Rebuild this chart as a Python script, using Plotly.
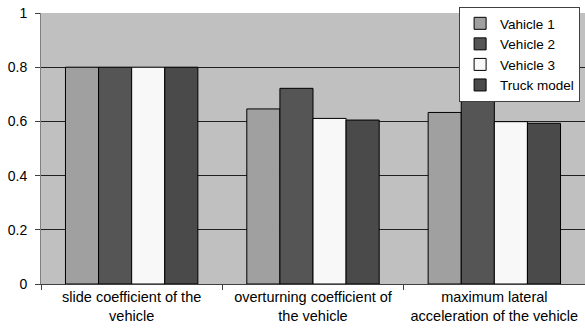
import plotly.graph_objects as go

categories = ["slide coefficient of the<br>vehicle",
              "overturning coefficient of<br>the vehicle",
              "maximum lateral<br>acceleration of the vehicle"]
series_names = ["Vahicle 1", "Vehicle 2", "Vehicle 3", "Truck model"]
vehicle1 = [0.80, 0.646, 0.633]
vehicle2 = [0.80, 0.722, 0.707]
vehicle3 = [0.80, 0.611, 0.599]
truck = [0.80, 0.605, 0.593]
series_values = [vehicle1, vehicle2, vehicle3, truck]
colors = ["#a0a0a0", "#555555", "#f8f8f8", "#4a4a4a"]
y_ticks = [0, 0.2, 0.4, 0.6, 0.8, 1]

fig = go.Figure()
for name, vals, col in zip(series_names, series_values, colors):
    fig.add_trace(go.Bar(x=categories, y=vals, name=name,
                         marker=dict(color=col, line=dict(color="#000000", width=1))))

fig.update_layout(
    width=585, height=331,
    margin=dict(l=41, r=0, t=13, b=47, autoexpand=False),
    paper_bgcolor="white", plot_bgcolor="#c0c0c0",
    font=dict(family="Liberation Sans", size=14, color="#000000"),
    barmode="group", bargap=0.27, bargroupgap=0,
    legend=dict(x=0.991, y=1.022, xanchor="right", yanchor="top",
                bgcolor="white", bordercolor="#404040", borderwidth=1,
                font=dict(size=13.5), itemwidth=30, tracegroupgap=0),
    showlegend=True,
)
fig.update_yaxes(range=[0, 1], tickvals=y_ticks, ticktext=["0", "0.2", "0.4", "0.6", "0.8", "1"],
                 showgrid=True, gridcolor="#202020", gridwidth=1,
                 showline=True, linecolor="#808080", linewidth=1,
                 ticks="outside", ticklen=5, tickcolor="#404040",
                 ticklabelstandoff=5,
                 zeroline=False, tickfont=dict(size=14), automargin=False)
fig.update_xaxes(showline=True, linecolor="#404040", linewidth=1,
                 ticks="outside", ticklen=5, tickcolor="#404040",
                 tickson="boundaries", tickfont=dict(size=14.5), automargin=False)

fig.write_html("out.html", config={"displayModeBar": False},
               post_script="document.body.style.margin='0';")
